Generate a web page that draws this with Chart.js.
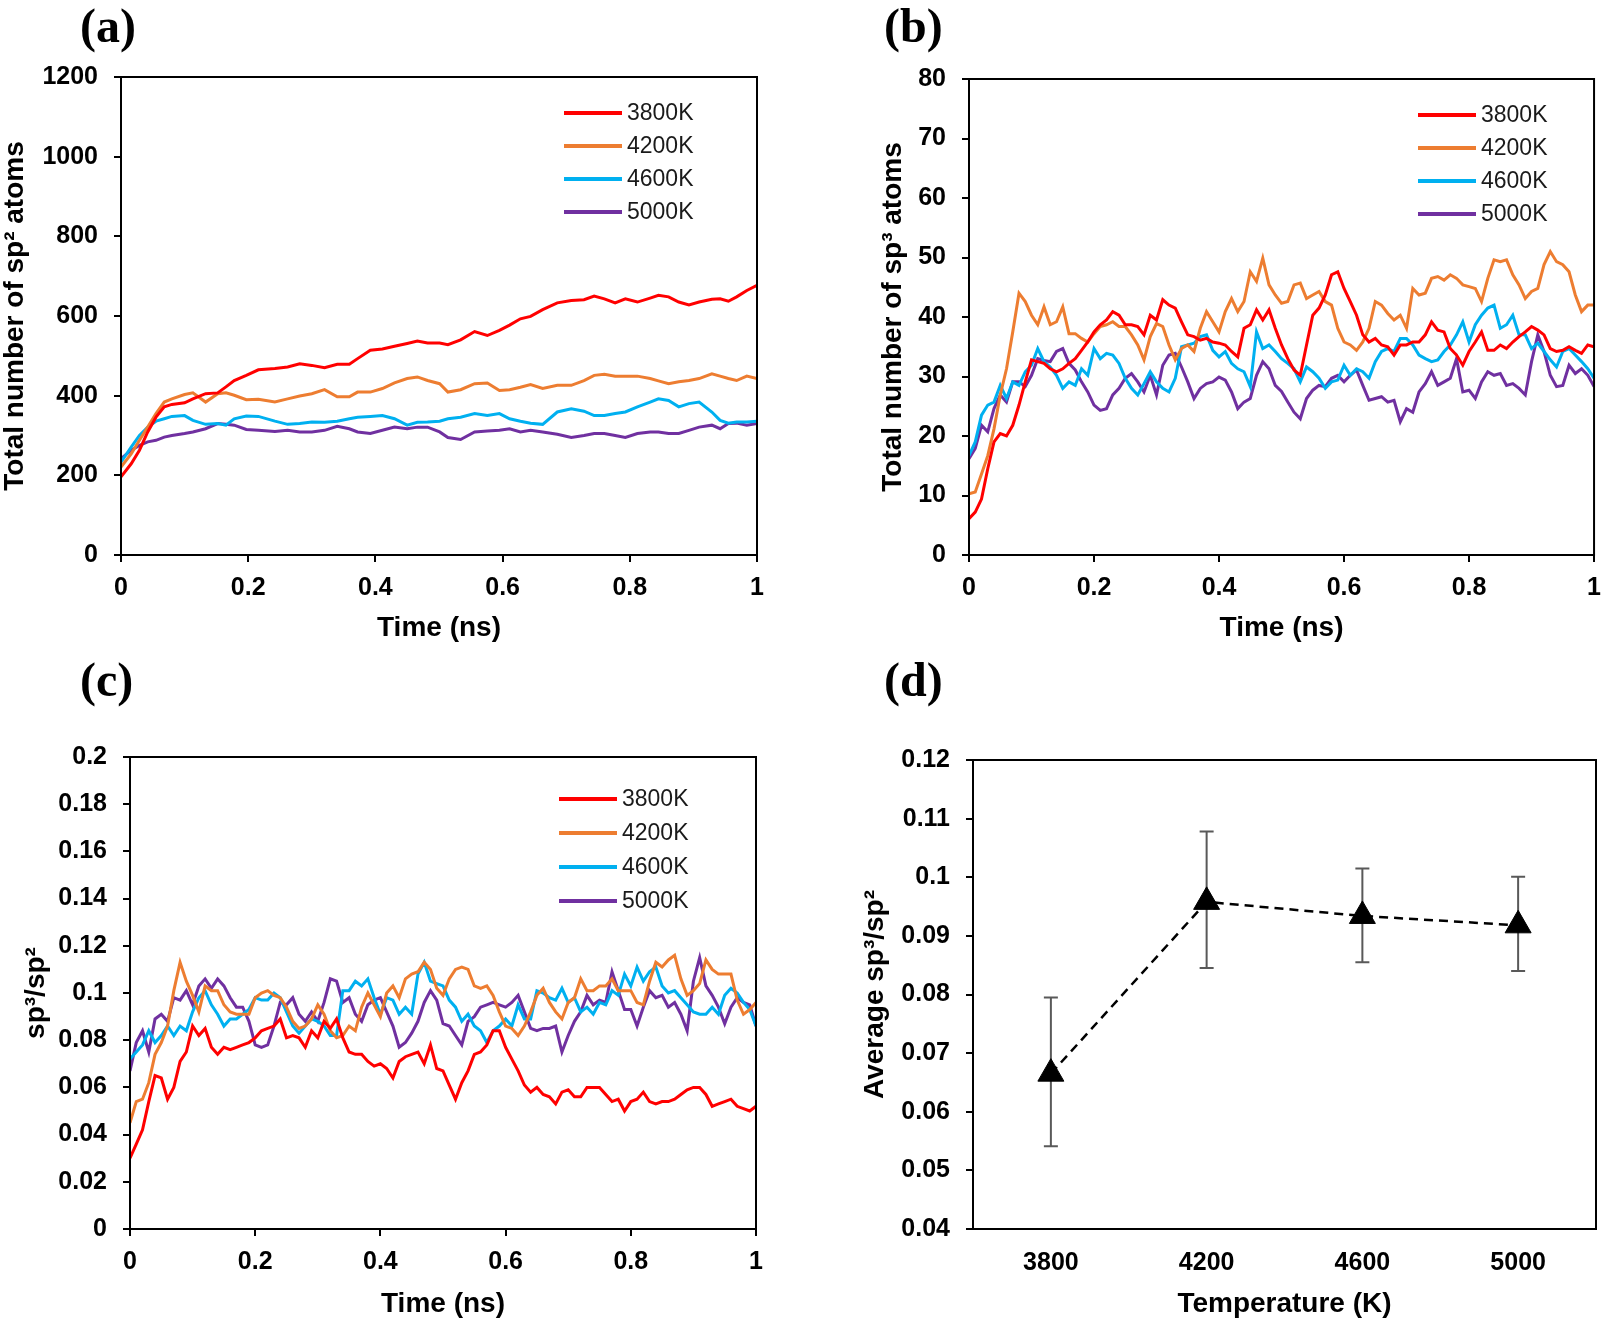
<!DOCTYPE html>
<html>
<head>
<meta charset="utf-8">
<script src="https://cdn.jsdelivr.net/npm/chart.js@4.4.1/dist/chart.umd.min.js"></script>
<style>
  html, body { margin: 0; padding: 0; background: #fff; }
  #page { position: relative; width: 1612px; height: 1322px; overflow: hidden; background: #fff; }
  canvas { position: absolute; }
  .tag { position: absolute; font: bold 48px 'Liberation Serif', 'Times New Roman', serif; line-height: 1; color: #000; }
</style>
</head>
<body>
<div id="page">
  <canvas id="chartA" width="800" height="630" style="left:0px;top:40px"></canvas>
  <canvas id="chartB" width="806" height="630" style="left:806px;top:40px"></canvas>
  <canvas id="chartC" width="800" height="622" style="left:0px;top:700px"></canvas>
  <canvas id="chartD" width="806" height="622" style="left:806px;top:700px"></canvas>
  <div class="tag" style="left:80px;top:2px">(a)</div>
  <div class="tag" style="left:884px;top:2px">(b)</div>
  <div class="tag" style="left:80px;top:656px">(c)</div>
  <div class="tag" style="left:884px;top:656px">(d)</div>
</div>
<script>
// ---- data ----
const tempLabels = ['3800K', '4200K', '4600K', '5000K'];
const tempColors = ['#FF0000', '#ED7D31', '#00B0F0', '#7030A0'];

// (a) sp2 atoms
const timeA = [0, 0.016, 0.029, 0.042, 0.055, 0.068, 0.08, 0.1, 0.113, 0.133,
  0.152, 0.165, 0.178, 0.197, 0.216, 0.242, 0.262, 0.281, 0.3, 0.32,
  0.34, 0.359, 0.372, 0.392, 0.411, 0.43, 0.45, 0.466, 0.482, 0.501,
  0.514, 0.534, 0.556, 0.576, 0.595, 0.611, 0.628, 0.644, 0.663, 0.686,
  0.708, 0.728, 0.744, 0.76, 0.777, 0.793, 0.812, 0.832, 0.845, 0.861,
  0.877, 0.893, 0.909, 0.929, 0.942, 0.955, 0.968, 0.984, 1];
const sp2_3800 = [196, 229, 263, 309, 346, 372, 378, 382, 392, 405,
  407, 422, 438, 451, 465, 468, 472, 480, 476, 470,
  479, 479, 493, 514, 517, 524, 531, 537, 532, 532,
  528, 540, 561, 551, 564, 577, 593, 599, 616, 633,
  639, 641, 650, 643, 633, 643, 635, 645, 652, 648,
  635, 628, 635, 642, 643, 637, 648, 664, 677];
const sp2_4200 = [221, 254, 288, 321, 355, 384, 392, 403, 407, 384,
  405, 407, 401, 390, 391, 384, 392, 399, 405, 415,
  397, 397, 409, 409, 418, 432, 443, 447, 438, 430,
  409, 415, 430, 432, 413, 415, 421, 428, 418, 426,
  426, 438, 451, 454, 449, 449, 449, 443, 437, 430,
  435, 438, 443, 455, 449, 443, 438, 449, 443];
const sp2_4600 = [233, 271, 300, 321, 336, 342, 348, 350, 338, 328,
  330, 326, 342, 349, 348, 336, 328, 330, 334, 333,
  336, 342, 346, 348, 350, 342, 326, 333, 334, 336,
  342, 346, 355, 350, 355, 342, 336, 331, 328, 359,
  367, 361, 350, 350, 355, 359, 372, 384, 392, 388,
  372, 380, 384, 359, 338, 331, 334, 334, 336];
const sp2_5000 = [242, 263, 275, 284, 288, 296, 300, 305, 309, 317,
  330, 328, 326, 315, 313, 310, 313, 309, 309, 313,
  323, 317, 309, 305, 313, 321, 317, 321, 321, 309,
  295, 290, 309, 311, 313, 317, 309, 313, 309, 303,
  295, 300, 305, 305, 300, 295, 305, 309, 309, 305,
  305, 313, 321, 326, 317, 330, 331, 326, 330];

// (b) and (c) share the same sampling times
const timeBC = [0, 0.01, 0.02, 0.03, 0.04, 0.05, 0.06, 0.07, 0.08, 0.09,
  0.1, 0.11, 0.12, 0.13, 0.14, 0.15, 0.16, 0.17, 0.18, 0.19,
  0.2, 0.21, 0.22, 0.23, 0.24, 0.25, 0.26, 0.27, 0.28, 0.29,
  0.3, 0.31, 0.32, 0.33, 0.34, 0.35, 0.36, 0.37, 0.38, 0.39,
  0.4, 0.41, 0.42, 0.43, 0.44, 0.45, 0.46, 0.47, 0.48, 0.49,
  0.5, 0.51, 0.52, 0.53, 0.54, 0.55, 0.56, 0.57, 0.58, 0.59,
  0.6, 0.61, 0.62, 0.63, 0.64, 0.65, 0.66, 0.67, 0.68, 0.69,
  0.7, 0.71, 0.72, 0.73, 0.74, 0.75, 0.76, 0.77, 0.78, 0.79,
  0.8, 0.81, 0.82, 0.83, 0.84, 0.85, 0.86, 0.87, 0.88, 0.89,
  0.9, 0.91, 0.92, 0.93, 0.94, 0.95, 0.96, 0.97, 0.98, 0.99, 1];

// (b) sp3 atoms
const sp3_3800 = [6.1, 7.2, 9.4, 14.5, 19.0, 20.4, 20.0, 21.8, 25.2, 29.1,
  32.8, 32.5, 32.2, 31.3, 30.8, 31.3, 32.2, 33.0, 34.4, 35.8,
  37.5, 38.7, 39.5, 40.9, 40.3, 38.7, 38.7, 38.4, 37.0, 40.3,
  39.5, 42.9, 42.0, 41.5, 39.2, 37.0, 36.7, 36.1, 36.4, 35.8,
  35.6, 35.3, 34.2, 33.3, 38.1, 38.7, 41.2, 39.5, 41.2, 38.1,
  35.3, 33.0, 31.1, 30.2, 35.3, 40.3, 41.5, 43.7, 47.1, 47.6,
  44.8, 42.6, 40.3, 37.0, 35.8, 36.4, 35.3, 35.0, 33.6, 35.3,
  35.3, 35.8, 35.8, 37.0, 39.2, 37.8, 37.5, 34.7, 33.6, 31.9,
  34.2, 35.8, 37.5, 34.4, 34.4, 35.3, 34.7, 35.8, 36.7, 37.5,
  38.4, 37.8, 37.0, 34.7, 34.2, 34.4, 35.0, 34.4, 33.9, 35.3, 35.0];
const sp3_4200 = [10.3, 10.6, 13.6, 16.7, 21.2, 26.9, 31.3, 37.5, 44.0, 42.6,
  40.3, 38.7, 41.7, 38.7, 39.2, 41.7, 37.2, 37.2, 36.4, 35.8,
  37.2, 38.4, 38.7, 39.2, 38.4, 38.4, 37.0, 35.3, 32.8, 36.7,
  38.9, 38.4, 35.3, 32.8, 34.7, 35.3, 34.2, 38.1, 40.9, 39.2,
  37.5, 40.9, 43.1, 40.9, 42.6, 47.6, 46.0, 49.9, 45.4, 43.7,
  42.3, 42.6, 45.4, 45.7, 43.1, 43.7, 44.3, 42.6, 42.0, 38.1,
  35.8, 35.3, 34.4, 35.8, 38.1, 42.6, 42.0, 40.6, 39.5, 40.3,
  38.1, 44.8, 43.7, 44.0, 46.5, 46.8, 46.2, 47.1, 46.5, 45.4,
  45.1, 44.8, 42.6, 46.5, 49.6, 49.3, 49.6, 47.1, 45.4, 43.1,
  44.3, 44.8, 48.8, 51.0, 49.3, 48.8, 47.6, 43.7, 40.9, 42.0, 42.0];
const sp3_4600 = [16.7, 19.0, 23.5, 25.2, 25.7, 28.5, 26.3, 29.1, 28.5, 30.8,
  31.9, 34.7, 32.5, 31.6, 30.2, 28.0, 29.1, 28.5, 31.3, 30.2,
  34.7, 33.0, 33.9, 33.6, 32.2, 29.7, 28.0, 26.9, 28.8, 30.8,
  29.1, 28.0, 27.4, 29.7, 35.0, 35.3, 35.6, 36.7, 37.0, 34.4,
  33.3, 34.2, 32.2, 31.3, 30.8, 28.3, 37.5, 34.7, 35.3, 34.2,
  33.0, 32.2, 31.3, 29.1, 31.6, 30.8, 29.7, 28.0, 29.1, 29.4,
  31.9, 30.2, 31.3, 30.8, 29.7, 32.5, 34.2, 34.7, 34.2, 36.4,
  36.4, 35.3, 33.6, 33.0, 32.5, 32.8, 34.2, 35.3, 37.0, 39.2,
  35.8, 38.7, 40.3, 41.5, 42.0, 38.1, 38.7, 40.3, 37.0, 37.0,
  34.7, 35.6, 34.2, 32.8, 31.6, 34.2, 34.7, 33.6, 32.5, 31.3, 29.7];
const sp3_5000 = [16.2, 17.9, 21.8, 20.7, 24.6, 26.9, 25.7, 29.1, 29.1, 28.3,
  30.2, 33.0, 32.7, 32.5, 34.2, 34.7, 32.2, 31.1, 29.1, 27.4,
  25.2, 24.3, 24.6, 26.9, 28.0, 29.7, 30.5, 29.1, 27.4, 30.2,
  26.9, 31.9, 33.6, 33.9, 31.6, 29.1, 26.3, 28.0, 28.8, 29.1,
  29.9, 29.4, 27.4, 24.6, 25.7, 26.3, 30.2, 32.5, 31.3, 28.5,
  27.5, 25.7, 24.0, 22.9, 26.3, 27.7, 28.5, 28.3, 29.7, 30.2,
  29.1, 30.2, 31.1, 28.5, 26.0, 26.3, 26.6, 25.7, 26.0, 22.4,
  24.6, 24.0, 27.4, 28.8, 30.8, 28.5, 29.1, 29.7, 33.0, 27.4,
  27.7, 26.3, 29.1, 30.8, 30.2, 30.5, 28.5, 28.8, 28.0, 26.9,
  32.5, 37.0, 34.2, 30.2, 28.3, 28.5, 31.9, 30.5, 31.3, 30.2, 28.3];

// (c) sp3/sp2 ratio
const ratio_3800 = [0.030, 0.036, 0.042, 0.054, 0.065, 0.064, 0.055, 0.060, 0.071, 0.075,
  0.086, 0.082, 0.085, 0.077, 0.074, 0.077, 0.076, 0.077, 0.078, 0.079,
  0.081, 0.084, 0.085, 0.086, 0.089, 0.081, 0.082, 0.081, 0.077, 0.084,
  0.081, 0.088, 0.085, 0.089, 0.081, 0.075, 0.074, 0.074, 0.071, 0.069,
  0.070, 0.068, 0.064, 0.071, 0.073, 0.074, 0.075, 0.070, 0.078, 0.068,
  0.067, 0.061, 0.055, 0.062, 0.067, 0.074, 0.075, 0.078, 0.084, 0.084,
  0.077, 0.072, 0.067, 0.061, 0.058, 0.060, 0.057, 0.056, 0.053, 0.058,
  0.059, 0.056, 0.056, 0.060, 0.060, 0.060, 0.057, 0.054, 0.055, 0.050,
  0.054, 0.055, 0.058, 0.054, 0.053, 0.054, 0.054, 0.055, 0.057, 0.059,
  0.060, 0.060, 0.057, 0.052, 0.053, 0.054, 0.055, 0.052, 0.051, 0.050, 0.052];
const ratio_4200 = [0.045, 0.054, 0.055, 0.062, 0.074, 0.079, 0.086, 0.101, 0.113, 0.105,
  0.099, 0.092, 0.103, 0.101, 0.101, 0.095, 0.092, 0.091, 0.091, 0.091,
  0.098, 0.100, 0.101, 0.099, 0.098, 0.094, 0.088, 0.085, 0.086, 0.089,
  0.095, 0.091, 0.084, 0.081, 0.082, 0.086, 0.084, 0.094, 0.100, 0.095,
  0.090, 0.100, 0.103, 0.098, 0.106, 0.108, 0.109, 0.113, 0.110, 0.102,
  0.099, 0.106, 0.110, 0.111, 0.110, 0.103, 0.102, 0.103, 0.099, 0.092,
  0.086, 0.085, 0.082, 0.086, 0.092, 0.099, 0.102, 0.096, 0.092, 0.089,
  0.096, 0.098, 0.106, 0.101, 0.101, 0.103, 0.103, 0.106, 0.101, 0.101,
  0.101, 0.096, 0.095, 0.105, 0.113, 0.111, 0.114, 0.116, 0.106, 0.099,
  0.101, 0.104, 0.114, 0.110, 0.108, 0.108, 0.108, 0.097, 0.091, 0.093, 0.096];
const ratio_4600 = [0.072, 0.075, 0.078, 0.084, 0.079, 0.082, 0.086, 0.082, 0.086, 0.084,
  0.092, 0.098, 0.101, 0.095, 0.091, 0.086, 0.089, 0.089, 0.091, 0.093,
  0.098, 0.097, 0.097, 0.100, 0.098, 0.092, 0.086, 0.083, 0.086, 0.089,
  0.088, 0.086, 0.082, 0.082, 0.101, 0.101, 0.105, 0.103, 0.106, 0.098,
  0.091, 0.098, 0.097, 0.091, 0.094, 0.091, 0.108, 0.113, 0.105, 0.104,
  0.103, 0.097, 0.094, 0.088, 0.091, 0.086, 0.084, 0.079, 0.084, 0.086,
  0.089, 0.086, 0.095, 0.089, 0.089, 0.101, 0.100, 0.098, 0.097, 0.102,
  0.096, 0.098, 0.092, 0.094, 0.091, 0.096, 0.095, 0.101, 0.099, 0.108,
  0.103, 0.111, 0.105, 0.109, 0.111, 0.103, 0.100, 0.101, 0.098, 0.095,
  0.092, 0.091, 0.091, 0.094, 0.091, 0.099, 0.102, 0.100, 0.096, 0.093, 0.086];
const ratio_5000 = [0.067, 0.079, 0.084, 0.075, 0.089, 0.091, 0.088, 0.098, 0.097, 0.101,
  0.095, 0.103, 0.106, 0.102, 0.106, 0.103, 0.098, 0.094, 0.094, 0.088,
  0.078, 0.077, 0.078, 0.086, 0.096, 0.095, 0.098, 0.091, 0.088, 0.092,
  0.088, 0.096, 0.106, 0.105, 0.096, 0.098, 0.091, 0.088, 0.095, 0.097,
  0.098, 0.092, 0.086, 0.077, 0.079, 0.083, 0.088, 0.096, 0.101, 0.097,
  0.087, 0.086, 0.082, 0.078, 0.088, 0.090, 0.094, 0.095, 0.096, 0.095,
  0.094, 0.096, 0.099, 0.092, 0.085, 0.084, 0.085, 0.085, 0.086, 0.075,
  0.082, 0.088, 0.092, 0.099, 0.095, 0.097, 0.096, 0.109, 0.101, 0.093,
  0.093, 0.086, 0.094, 0.101, 0.098, 0.099, 0.094, 0.096, 0.091, 0.084,
  0.105, 0.115, 0.103, 0.099, 0.094, 0.087, 0.094, 0.098, 0.096, 0.095, 0.086];

// (d) average ratio with error bars
const temps = ['3800', '4200', '4600', '5000'];
const avgRatio = [0.0665, 0.0958, 0.0934, 0.0918];
const errLow = [0.0541, 0.0845, 0.0855, 0.0840];
const errHigh = [0.0795, 0.1078, 0.1015, 0.1001];

// ---- drawing ----
const FONT = "'Liberation Sans', Arial, sans-serif";
const tickFont = { family: FONT, size: 25, weight: 'bold' };
const titleFont = { family: FONT, size: 28, weight: 'bold', lineHeight: 1 };

function tickFmt(v) {
  return String(Math.round(v * 1000) / 1000);
}

// box around the plot area
const frame = {
  id: 'frame',
  afterDatasetsDraw(chart) {
    const { ctx, chartArea: a } = chart;
    ctx.save();
    ctx.strokeStyle = '#000';
    ctx.lineWidth = 2;
    ctx.strokeRect(a.left, a.top, a.right - a.left, a.bottom - a.top);
    ctx.restore();
  }
};

// legend drawn inside the plot area, upper right
const boxLegend = {
  id: 'boxLegend',
  afterDraw(chart, args, opts) {
    const { ctx, chartArea: a } = chart;
    ctx.save();
    ctx.font = '23px ' + FONT;
    ctx.textBaseline = 'middle';
    chart.data.datasets.forEach((ds, i) => {
      const x = a.left + opts.left;
      const y = a.top + opts.top + i * opts.gap;
      ctx.strokeStyle = ds.borderColor;
      ctx.lineWidth = 4;
      ctx.beginPath();
      ctx.moveTo(x, y);
      ctx.lineTo(x + 58, y);
      ctx.stroke();
      ctx.fillStyle = '#1a1a1a';
      ctx.fillText(ds.label, x + 63, y + 1);
    });
    ctx.restore();
  }
};

// vertical error bars for panel (d)
const errorBars = {
  id: 'errorBars',
  beforeDatasetsDraw(chart) {
    const { ctx, scales } = chart;
    ctx.save();
    ctx.strokeStyle = '#595959';
    ctx.lineWidth = 2;
    temps.forEach((t, i) => {
      const px = scales.x.getPixelForValue(i);
      const lo = scales.y.getPixelForValue(errLow[i]);
      const hi = scales.y.getPixelForValue(errHigh[i]);
      ctx.beginPath();
      ctx.moveTo(px, lo); ctx.lineTo(px, hi);
      ctx.moveTo(px - 7, lo); ctx.lineTo(px + 7, lo);
      ctx.moveTo(px - 7, hi); ctx.lineTo(px + 7, hi);
      ctx.stroke();
    });
    ctx.restore();
  }
};

function yAxis(min, max, step, title, width) {
  return {
    type: 'linear', min: min, max: max,
    ticks: { stepSize: step, font: tickFont, color: '#000', padding: 16, callback: tickFmt },
    grid: { drawOnChartArea: false, tickLength: 7, color: '#000', lineWidth: 2 },
    border: { color: '#000', width: 2 },
    title: { display: true, text: title, font: titleFont, color: '#000', padding: { top: 1, bottom: 0 } },
    afterFit: (s) => { s.width = width; }
  };
}

function timeAxis(height, titlePad) {
  return {
    type: 'linear', min: 0, max: 1,
    ticks: { stepSize: 0.2, font: tickFont, color: '#000', padding: 11, callback: tickFmt, maxRotation: 0 },
    grid: { drawOnChartArea: false, tickLength: 7, color: '#000', lineWidth: 2 },
    border: { color: '#000', width: 2 },
    title: { display: true, text: 'Time (ns)', font: titleFont, color: '#000', padding: { top: 0, bottom: titlePad } },
    afterFit: (s) => { s.height = height; }
  };
}

function timeChart(id, times, seriesList, yOpts, xOpts, pad, legendPos) {
  const datasets = seriesList.map((values, k) => ({
    label: tempLabels[k],
    borderColor: tempColors[k],
    backgroundColor: tempColors[k],
    borderWidth: 3,
    pointRadius: 0,
    tension: 0,
    data: times.map((t, i) => ({ x: t, y: values[i] }))
  }));
  return new Chart(document.getElementById(id), {
    type: 'line',
    data: { datasets },
    options: {
      responsive: false,
      animation: false,
      events: [],
      layout: { padding: pad },
      scales: { x: xOpts, y: yOpts },
      plugins: {
        legend: { display: false },
        tooltip: { enabled: false },
        boxLegend: legendPos
      }
    },
    plugins: [frame, boxLegend]
  });
}

timeChart('chartA', timeA, [sp2_3800, sp2_4200, sp2_4600, sp2_5000],
  yAxis(0, 1200, 200, 'Total number of sp\u00B2 atoms', 121),
  timeAxis(115, 28),
  { left: 0, top: 37, right: 43, bottom: 0 },
  { left: 443, top: 36, gap: 33 });

timeChart('chartB', timeBC, [sp3_3800, sp3_4200, sp3_4600, sp3_5000],
  yAxis(0, 80, 10, 'Total number of sp\u00B3 atoms', 91),
  timeAxis(115, 28),
  { left: 72, top: 39, right: 8, bottom: 0 },
  { left: 449, top: 36, gap: 33 });

timeChart('chartC', timeBC, [ratio_3800, ratio_4200, ratio_4600, ratio_5000],
  yAxis(0, 0.2, 0.02, 'sp\u00B3/sp\u00B2', 109),
  timeAxis(93, 4),
  { left: 21, top: 57, right: 44, bottom: 0 },
  { left: 429, top: 42, gap: 34 });

new Chart(document.getElementById('chartD'), {
  type: 'line',
  data: {
    labels: temps,
    datasets: [{
      label: 'Average sp\u00B3/sp\u00B2',
      data: avgRatio,
      borderColor: '#000',
      borderWidth: 2.5,
      borderDash: [9, 6],
      pointStyle: 'triangle',
      pointRadius: 15,
      pointBackgroundColor: '#000',
      pointBorderColor: '#000',
      pointBorderWidth: 1,
      tension: 0
    }]
  },
  options: {
    responsive: false,
    animation: false,
    events: [],
    layout: { padding: { left: 54, top: 60, right: 14, bottom: 0 } },
    scales: {
      x: {
        type: 'category', offset: true,
        ticks: { font: tickFont, color: '#000', padding: 19 },
        grid: { display: false, drawTicks: false },
        border: { display: true, color: '#000', width: 2 },
        title: { display: true, text: 'Temperature (K)', font: titleFont, color: '#000', padding: { top: 0, bottom: 4 } },
        afterFit: (s) => { s.height = 93; }
      },
      y: yAxis(0.04, 0.12, 0.01, 'Average sp\u00B3/sp\u00B2', 113)
    },
    plugins: {
      legend: { display: false },
      tooltip: { enabled: false }
    }
  },
  plugins: [errorBars, frame]
});
</script>
</body>
</html>
